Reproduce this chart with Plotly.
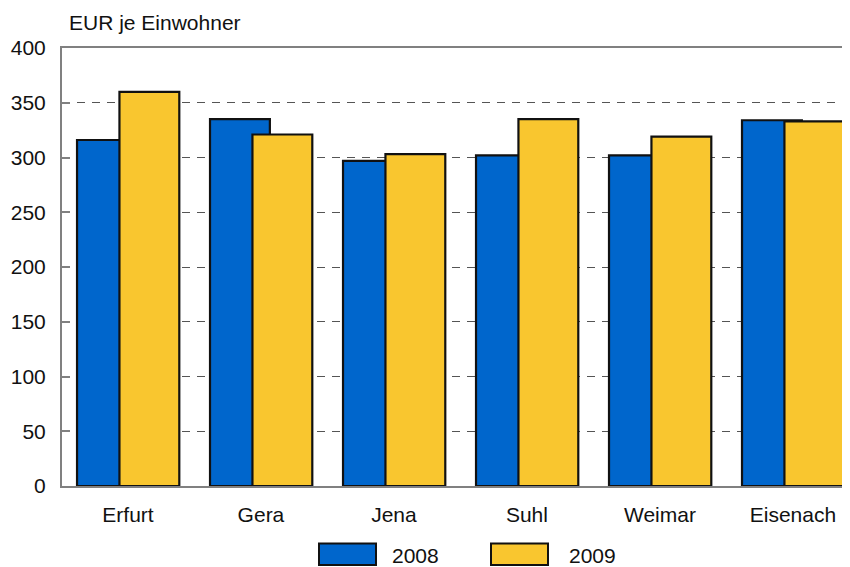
import plotly.graph_objects as go

categories = ["Erfurt", "Gera", "Jena", "Suhl", "Weimar", "Eisenach"]
values_2008 = [316, 335, 297, 302, 302, 334]
values_2009 = [360, 321, 303, 335, 319, 333]
series_names = ["2008", "2009"]
y_ticks = [0, 50, 100, 150, 200, 250, 300, 350, 400]
y_title = "EUR je Einwohner"

BLUE = "#0066CC"
YELLOW = "#F9C62F"
FONT = "Liberation Sans, Arial, sans-serif"

# page body has an 8px margin; figure is sized to fill the rest of the window
OFF = 8
W, H = 850 - OFF, 567 - OFF
L, R, T, B = 62 - OFF, 0, 48 - OFF, 567 - 486
PW, PH = W - L - R, H - T - B

def px_x(px):
    return (px - OFF - L) / PW

def px_y(py):
    return (567 - B - py) / PH

fig = go.Figure()
fig.add_trace(go.Bar(
    x=categories, y=values_2008, name=series_names[0],
    marker=dict(color=BLUE, line=dict(color="#111111", width=2.2)),
    width=0.45, offset=-0.383, showlegend=False,
))
fig.add_trace(go.Bar(
    x=categories, y=values_2009, name=series_names[1],
    marker=dict(color=YELLOW, line=dict(color="#111111", width=2.2)),
    width=0.45, offset=-0.064, showlegend=False,
))

fig.update_layout(
    width=W, height=H,
    margin=dict(l=L, r=R, t=T, b=B),
    paper_bgcolor="white", plot_bgcolor="white",
    barmode="overlay",
    font=dict(family=FONT, size=21, color="#111111"),
    xaxis=dict(
        type="category",
        range=[-0.496, 5.429],
        showline=True, linecolor="#808080", linewidth=2,
        mirror=True,
        showgrid=False, ticks="", ticklabelstandoff=9,
        tickfont=dict(size=21),
    ),
    yaxis=dict(
        range=[0, 400],
        tickvals=y_ticks,
        showline=True, linecolor="#808080", linewidth=2,
        ticks="inside", ticklen=8, tickcolor="#808080", tickwidth=2,
        showgrid=True, gridcolor="#555555", gridwidth=1.2, griddash="8px,7px",
        zeroline=False,
        ticklabelstandoff=10,
        tickfont=dict(size=21),
    ),
    showlegend=False,
)

fig.add_annotation(
    text=y_title, xref="paper", yref="paper",
    x=px_x(67), y=px_y(23), xanchor="left", yanchor="middle",
    showarrow=False, font=dict(family=FONT, size=21, color="#111111"),
)

legend_items = [(BLUE, series_names[0], 319, 376, 390), (YELLOW, series_names[1], 491, 548, 567)]
for color, label, x0, x1, tx in legend_items:
    fig.add_shape(
        type="rect", xref="paper", yref="paper",
        x0=px_x(x0), x1=px_x(x1), y0=px_y(565), y1=px_y(543.5),
        fillcolor=color, line=dict(color="#111111", width=2),
    )
    fig.add_annotation(
        text=label, xref="paper", yref="paper",
        x=px_x(tx), y=px_y(555), xanchor="left", yanchor="middle",
        showarrow=False, font=dict(family=FONT, size=21, color="#111111"),
    )

fig.write_html("out.html")
